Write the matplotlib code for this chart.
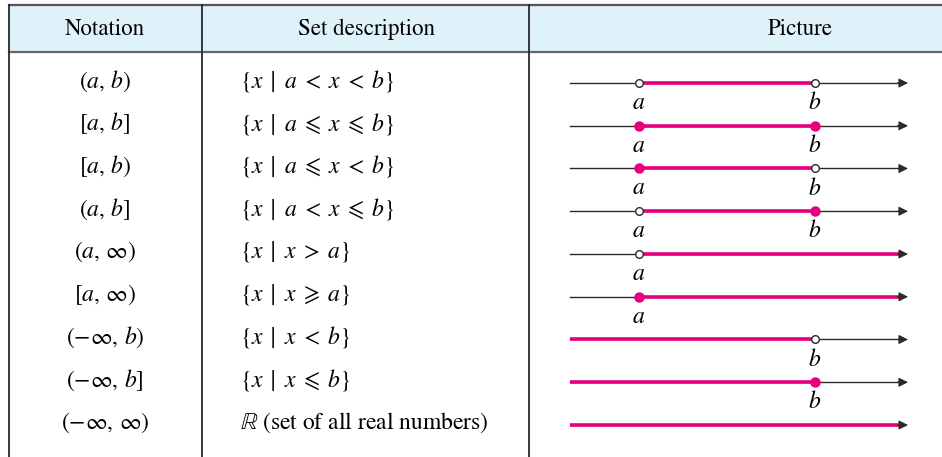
import matplotlib.pyplot as plt

plt.rcParams['mathtext.fontset'] = 'stix'
plt.rcParams['font.family'] = ['STIXGeneral', 'DejaVu Serif']

# table content
headers = ['Notation', 'Set description', 'Picture']
notations = [r'$(a,\, b)$', r'$[a,\, b]$', r'$[a,\, b)$', r'$(a,\, b]$',
             r'$(a,\, \infty)$', r'$[a,\, \infty)$', r'$(-\infty,\, b)$',
             r'$(-\infty,\, b]$', r'$(-\infty,\, \infty)$']
descriptions = [r'$\{x\;\mid\;a\; <\; x\; <\; b\}$',
                r'$\{x\;\mid\;a\; \leqslant\; x\; \leqslant\; b\}$',
                r'$\{x\;\mid\;a\; \leqslant\; x\; <\; b\}$',
                r'$\{x\;\mid\;a\; <\; x\; \leqslant\; b\}$',
                r'$\{x\;\mid\;x\; >\; a\}$',
                r'$\{x\;\mid\;x\; \geqslant\; a\}$',
                r'$\{x\;\mid\;x\; <\; b\}$',
                r'$\{x\;\mid\;x\; \leqslant\; b\}$',
                r'$\mathbb{R}$ (set of all real numbers)']
# endpoints of each interval (None = infinite)
left_end = ['a', 'a', 'a', 'a', 'a', 'a', None, None, None]
right_end = ['b', 'b', 'b', 'b', None, None, 'b', 'b', None]
left_closed = [False, True, True, False, False, True, False, False, False]
right_closed = [False, True, False, True, False, False, False, True, False]
point_pos = {'a': 0.0, 'b': 1.0}

PINK = '#E6007E'
DARK = '#2a2a2a'
W, H = 942, 457
ROW0, ROWH = 83, 42.75   # pixel row of first number line, row spacing


def px2row(p):
    return (p - ROW0) / ROWH


fig = plt.figure(figsize=(W / 100, H / 100), dpi=100)
ax = fig.add_axes([0, 0, 1, 1])
ax.set_xlim(0, W)
ax.set_ylim(px2row(H), px2row(0))
ax.axis('off')

# header band
ax.fill_between([9, W], px2row(5), px2row(52), color='#DFF2FA', lw=0)
ax.plot([9, W], [px2row(5), px2row(5)], color='#555555', lw=1.6)
ax.plot([9, W], [px2row(52), px2row(52)], color='#666666', lw=1.6)
for xc in [9, 202, 529]:
    ax.plot([xc, xc], [px2row(5), px2row(H)], color=DARK, lw=1.3)

fs = 17
hy = px2row(29)
ax.text(105, hy, headers[0], ha='center', va='center', fontsize=16.5)
ax.text(367, hy, headers[1], ha='center', va='center', fontsize=16.5)
ax.text(800, hy, headers[2], ha='center', va='center', fontsize=16.5)

for i, (nt, ds) in enumerate(zip(notations, descriptions)):
    ax.text(105, i - 0.05, nt, ha='center', va='center', fontsize=fs)
    ax.text(240, i - 0.05, ds, ha='left', va='center', fontsize=fs)

# number lines
pic = fig.add_axes([560 / W, 0, (W - 560) / W, 1])
x_lo, x_hi = (560 - 639) / 176, (W - 639) / 176
pic.set_xlim(x_lo, x_hi)
pic.set_ylim(px2row(H), px2row(0))
pic.axis('off')
start, tip = (570 - 639) / 176, (908 - 639) / 176

for i in range(len(notations)):
    pic.plot([start, tip - 0.02], [i, i], color=DARK, lw=1.0, zorder=2)
    pic.annotate('', xy=(tip, i), xytext=(tip - 0.06, i),
                 arrowprops=dict(arrowstyle='-|>', color=DARK, lw=0.8,
                                 mutation_scale=14, shrinkA=0, shrinkB=0),
                 zorder=4)
    lo = point_pos[left_end[i]] if left_end[i] else start
    hi = point_pos[right_end[i]] if right_end[i] else tip - 0.04
    pic.plot([lo, hi], [i, i], color=PINK, lw=2.6, solid_capstyle='butt', zorder=3)
    for name, closed in [(left_end[i], left_closed[i]), (right_end[i], right_closed[i])]:
        if name is None:
            continue
        xp = point_pos[name]
        if closed:
            pic.plot(xp, i, 'o', ms=6.5, color=PINK, mec=PINK, zorder=5)
        else:
            pic.plot(xp, i, 'o', ms=5.5, mfc='white', mec=DARK, mew=1.0, zorder=5)
        pic.text(xp, i + 0.47, '$' + name + '$', ha='center', va='center', fontsize=fs)

fig.savefig('out.png', dpi=100)
